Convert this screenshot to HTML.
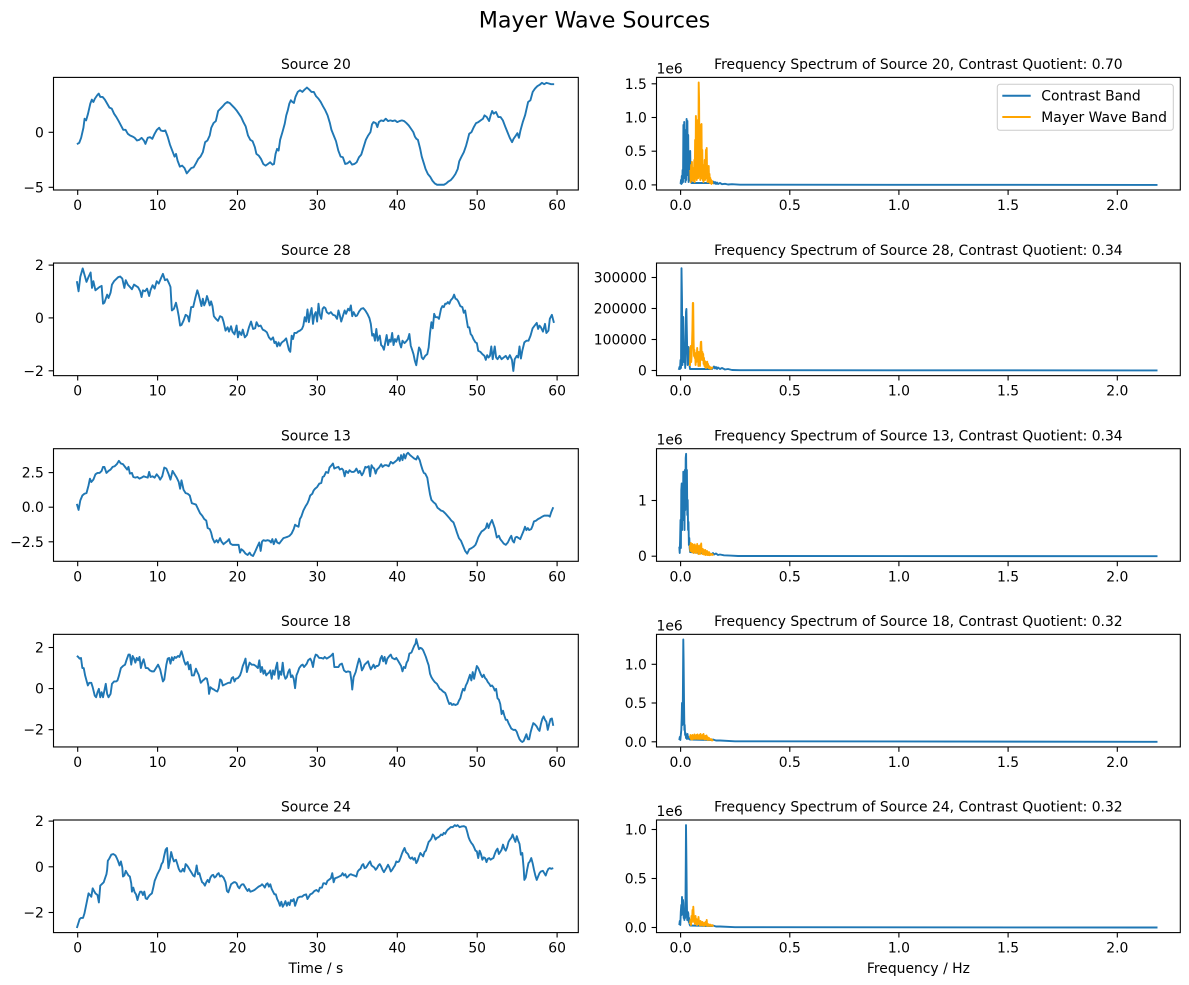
<!DOCTYPE html>
<html><head><meta charset="utf-8"><style>
html,body{margin:0;padding:0;background:#fff;}
svg{display:block;}
text{font-family:"DejaVu Sans","Liberation Sans",sans-serif;fill:#000;}
.t{font-size:13.9px;}
.l{text-anchor:end;}
.c{text-anchor:middle;}
.ax{fill:none;stroke:#000;stroke-width:1.1;}
.tk{stroke:#000;stroke-width:1.1;}
.b{fill:none;stroke:#1f77b4;stroke-width:1.9;stroke-linejoin:round;}
.o{fill:none;stroke:#ffa500;stroke-width:1.9;stroke-linejoin:round;}
.bs{fill:none;stroke:#1f77b4;stroke-width:1.9;stroke-linejoin:round;vector-effect:non-scaling-stroke;}
</style></head><body>
<svg width="1189" height="985" viewBox="0 0 1189 985" xmlns="http://www.w3.org/2000/svg">
<rect width="1189" height="985" fill="#fff"/>
<text x="594.5" y="27.5" class="c" style="font-size:22.2px">Mayer Wave Sources</text>

<!-- ========== ROW 1 ========== -->
<text x="315.9" y="69.1" class="t c">Source 20</text>
<text x="918.4" y="69.1" class="t c">Frequency Spectrum of Source 20, Contrast Quotient: 0.70</text>
<g transform="translate(0,50) scale(0.3827,0.3352)">
<polyline class="bs" points="201,281 207,277 212,262 218,232 221,205 225,210 230,190 236,160 240,148 244,155 248,145 254,135 258,130 262,140 268,140 274,148 280,160 286,172 292,175 298,190 304,200 310,212 316,225 322,238 328,238 334,250 340,255 346,258 352,262 358,270 364,268 370,262 376,270 380,280 386,262 392,260 398,265 404,250 410,238 416,232 420,240 426,242 432,240 438,258 444,282 450,300 456,318 460,310 464,330 470,348 476,345 482,352 488,368 494,360 500,352 506,350 512,338 518,325 524,318 530,305 536,275 542,270 548,255 552,232 558,218 564,212 570,182 576,175 582,168 588,160 594,155 600,158 606,165 612,172 618,180 624,190 630,200 636,215 642,228 648,255 654,268 660,272 666,290 670,310 676,315 682,325 688,340 694,345 700,340 706,335 712,342 716,340 720,310 724,295 728,300 732,268 738,245 744,220 748,195 752,180 756,160 760,150 764,155 768,158 772,140 778,125 784,120 790,125 796,118 802,112 808,118 814,125 820,125 826,138 832,145 838,155 844,168 850,180 856,195 862,218 866,238 872,255 878,272 884,300 890,318 896,320 902,340 908,338 914,332 920,342 926,340 932,335 938,320 944,312 950,290 956,268 962,255 968,245 972,222 976,215 982,218 986,230 990,215 996,210 1002,212 1008,205 1014,212 1020,210 1026,212 1032,210 1038,215 1044,212 1050,210 1056,212 1062,218 1068,225 1074,235 1080,245 1084,258 1088,265 1092,268 1098,295 1102,318 1108,340 1112,355 1118,370 1124,378 1130,390 1136,398 1142,402 1148,402 1154,402 1160,402 1166,398 1172,392 1178,388 1184,380 1190,370 1196,355 1200,332 1206,318 1212,305 1218,285 1222,268 1226,250 1232,245 1238,230 1244,218 1250,215 1256,210 1262,205 1266,195 1272,200 1278,212 1282,195 1286,182 1290,190 1296,185 1302,200 1308,200 1314,210 1320,228 1326,245 1332,262 1338,275 1342,265 1348,255 1352,248 1356,262 1360,240 1366,215 1372,195 1376,175 1380,155 1386,150 1392,125 1398,115 1404,108 1410,104 1416,98 1422,102 1428,98 1434,100 1440,102 1448,102"/>
</g>
<rect class="ax" x="53.5" y="77.4" width="524.8" height="112.6"/>
<g class="tk">
<line x1="48.6" y1="132.3" x2="53.5" y2="132.3"/><line x1="48.6" y1="187.3" x2="53.5" y2="187.3"/>
<line x1="77.7" y1="190" x2="77.7" y2="194.9"/><line x1="157.6" y1="190" x2="157.6" y2="194.9"/><line x1="237.5" y1="190" x2="237.5" y2="194.9"/><line x1="317.4" y1="190" x2="317.4" y2="194.9"/><line x1="397.3" y1="190" x2="397.3" y2="194.9"/><line x1="477.2" y1="190" x2="477.2" y2="194.9"/><line x1="557.1" y1="190" x2="557.1" y2="194.9"/>
</g>
<text class="t l" x="43.8" y="137.3">0</text><text class="t l" x="43.8" y="192.3">−5</text>
<g class="t c"><text x="77.7" y="210">0</text><text x="157.6" y="210">10</text><text x="237.5" y="210">20</text><text x="317.4" y="210">30</text><text x="397.3" y="210">40</text><text x="477.2" y="210">50</text><text x="557.1" y="210">60</text></g>

<path class="b" d="M680.6,184 L681,180 L681.4,184 L681.8,176 L682.2,183 L682.6,170 L683,182 L683.4,125 L683.8,178 L684.2,122 L684.6,160 L685,130 L685.4,182 L685.8,140 L686.2,180 L686.6,119 L687,150 L687.4,121 L687.8,175 L688.2,135 L688.6,182 L689,160 L689.4,152 L689.8,180 L690.2,151 L690.6,175 L691,165 L691.4,183 L700,183 L712,183 L713,181.5 L714,183.5 L715,182 L716,184 L717,182.5 L718,184 L720,183 L722,184.2 L725,183.8 L728,184.5 L732,184.2 L740,184.7 L1157.5,184.9"/>
<path class="o" d="M690.3,170 L690.7,182 L691.1,165 L691.5,178 L691.9,162 L692.3,180 L692.7,168 L693.1,181 L693.5,172 L693.9,178 L694.3,160 L694.7,182 L695.1,140 L695.5,178 L695.9,116 L696.3,130 L696.7,180 L697.1,150 L697.5,176 L697.9,120 L698.3,178 L698.7,82.5 L699.1,100 L699.5,176 L699.9,140 L700.3,180 L700.7,125 L701.1,165 L701.5,124 L701.9,178 L702.3,150 L702.7,180 L703.1,165 L703.5,182 L703.9,170 L704.3,180 L704.7,160 L705.1,180 L705.5,172 L705.9,150 L706.3,178 L706.7,148 L707.1,175 L707.5,182 L707.9,168 L708.3,180 L708.7,166 L709.1,182 L709.5,174 L709.9,183 L710.3,178 L710.7,183 L711.1,180 L711.5,184 L712,181 L712.5,184"/>
<rect class="ax" x="656.5" y="77.4" width="523.8" height="112.6"/>
<g class="tk">
<line x1="651.6" y1="184.9" x2="656.5" y2="184.9"/><line x1="651.6" y1="151.2" x2="656.5" y2="151.2"/><line x1="651.6" y1="117.5" x2="656.5" y2="117.5"/><line x1="651.6" y1="83.8" x2="656.5" y2="83.8"/>
<line x1="680.6" y1="190" x2="680.6" y2="194.9"/><line x1="789.8" y1="190" x2="789.8" y2="194.9"/><line x1="898.9" y1="190" x2="898.9" y2="194.9"/><line x1="1008.1" y1="190" x2="1008.1" y2="194.9"/><line x1="1117.3" y1="190" x2="1117.3" y2="194.9"/>
</g>
<g class="t l"><text x="646.8" y="189.9">0.0</text><text x="646.8" y="156.2">0.5</text><text x="646.8" y="122.5">1.0</text><text x="646.8" y="88.8">1.5</text></g>
<text class="t" x="656.5" y="73.4">1e6</text>
<g class="t c"><text x="680.6" y="210">0.0</text><text x="789.8" y="210">0.5</text><text x="898.9" y="210">1.0</text><text x="1008.1" y="210">1.5</text><text x="1117.3" y="210">2.0</text></g>
<rect x="997.3" y="84.3" width="176" height="46" rx="2.8" fill="#fff" fill-opacity="0.8" stroke="#cccccc" stroke-width="1"/>
<line x1="1002.3" y1="95.7" x2="1030.7" y2="95.7" stroke="#1f77b4" stroke-width="2"/>
<line x1="1002.3" y1="117" x2="1030.7" y2="117" stroke="#ffa500" stroke-width="2"/>
<text class="t" x="1041.3" y="100.7">Contrast Band</text>
<text class="t" x="1041.3" y="122">Mayer Wave Band</text>

<!-- ========== ROW 2 ========== -->
<text x="315.9" y="254.75" class="t c">Source 28</text>
<text x="918.4" y="254.75" class="t c">Frequency Spectrum of Source 28, Contrast Quotient: 0.34</text>
<g transform="translate(50,255) scale(0.34423,0.33613)">
<polyline class="bs" points="78,78 83,108 88,65 95,40 100,58 106,80 112,65 118,52 122,98 126,78 132,105 138,100 144,95 150,92 154,145 158,142 162,130 166,118 170,128 176,112 180,88 186,78 192,72 198,66 204,64 210,70 216,98 220,75 226,88 232,95 238,102 244,88 250,92 256,96 262,108 266,125 270,105 276,108 282,100 288,122 292,105 298,90 304,100 310,78 316,85 322,70 328,56 334,75 340,72 346,85 350,95 354,165 360,160 366,142 370,160 374,182 378,210 382,208 388,195 394,178 400,182 404,198 410,155 416,155 422,128 428,105 432,118 436,135 440,152 444,130 448,150 452,140 456,122 460,135 464,150 468,138 472,152 476,182 482,190 488,196 494,182 500,185 504,198 510,225 516,215 520,228 526,212 530,228 536,236 542,210 546,245 550,228 556,238 560,222 566,245 572,238 578,215 584,198 590,220 596,218 600,200 606,212 612,210 618,222 624,225 630,230 636,245 642,252 648,245 652,262 656,258 660,272 664,260 668,270 672,262 676,258 680,255 686,248 690,265 694,282 698,288 702,240 706,250 710,232 716,232 720,228 726,225 732,220 736,210 740,185 744,198 748,162 752,200 756,175 760,158 764,205 768,178 772,170 776,198 780,145 784,178 788,190 792,160 796,155 800,158 804,170 810,175 816,170 822,178 828,180 834,190 838,165 842,180 846,198 852,178 856,165 860,175 866,160 870,165 874,150 878,182 882,170 888,182 892,180 898,168 904,160 910,158 916,165 922,175 928,188 932,205 936,240 940,235 944,255 948,220 952,255 958,240 962,268 966,272 970,282 974,260 978,238 982,268 986,252 990,258 994,232 998,268 1002,250 1006,258 1012,240 1016,262 1020,275 1024,255 1030,262 1034,258 1040,250 1044,235 1048,270 1052,282 1056,295 1060,315 1064,328 1068,300 1072,275 1076,282 1080,305 1084,310 1090,300 1096,295 1100,275 1104,232 1108,200 1112,218 1116,175 1120,185 1126,185 1130,190 1136,160 1140,152 1144,155 1148,145 1152,145 1156,140 1160,145 1164,135 1170,128 1174,118 1178,130 1182,132 1186,138 1192,152 1198,155 1202,172 1206,165 1210,190 1214,215 1218,215 1222,235 1226,240 1230,250 1236,260 1240,262 1244,285 1250,288 1256,295 1262,300 1266,312 1270,298 1274,305 1278,300 1282,272 1286,310 1292,272 1296,305 1300,310 1306,300 1312,310 1318,305 1324,300 1330,310 1336,298 1342,312 1346,345 1350,310 1356,300 1360,305 1364,272 1368,308 1372,285 1378,260 1384,255 1390,255 1396,240 1402,218 1408,210 1414,202 1418,220 1422,210 1426,215 1432,228 1438,205 1442,232 1448,225 1452,190 1458,178 1464,202"/>
</g>
<rect class="ax" x="53.5" y="263.05" width="524.8" height="112.6"/>
<g class="tk">
<line x1="48.6" y1="265.1" x2="53.5" y2="265.1"/><line x1="48.6" y1="317.9" x2="53.5" y2="317.9"/><line x1="48.6" y1="370.8" x2="53.5" y2="370.8"/>
<line x1="77.7" y1="375.65" x2="77.7" y2="380.5"/><line x1="157.6" y1="375.65" x2="157.6" y2="380.5"/><line x1="237.5" y1="375.65" x2="237.5" y2="380.5"/><line x1="317.4" y1="375.65" x2="317.4" y2="380.5"/><line x1="397.3" y1="375.65" x2="397.3" y2="380.5"/><line x1="477.2" y1="375.65" x2="477.2" y2="380.5"/><line x1="557.1" y1="375.65" x2="557.1" y2="380.5"/>
</g>
<g class="t l"><text x="43.8" y="270.1">2</text><text x="43.8" y="322.9">0</text><text x="43.8" y="375.8">−2</text></g>
<g class="t c"><text x="77.7" y="395.65">0</text><text x="157.6" y="395.65">10</text><text x="237.5" y="395.65">20</text><text x="317.4" y="395.65">30</text><text x="397.3" y="395.65">40</text><text x="477.2" y="395.65">50</text><text x="557.1" y="395.65">60</text></g>

<path class="b" d="M678.3,368.5 L679,369 L679.5,367 L680,369 L680.5,360 L681,368 L681.5,268.2 L682,300 L682.4,365 L682.8,330 L683.2,317 L683.6,340 L684,362 L684.4,345 L684.8,355 L685.2,368 L685.6,340 L686,312 L686.4,309 L686.8,330 L687.2,350 L687.6,365 L688,355 L688.4,347 L688.8,360 L689.2,352 L689.6,366 L690,369 L712,369 L713,368 L714,366.5 L715,368.5 L716,367 L717,369 L718,367.5 L720,369 L722,368 L725,369.5 L728,369 L732,370 L740,370.2 L1157.5,370.4"/>
<path class="o" d="M690,366 L690.4,348 L690.8,346 L691.2,362 L691.6,356 L692,345 L692.4,330 L692.8,303 L693.2,303 L693.6,340 L694,356 L694.4,350 L694.8,358 L695.2,353 L695.6,365 L696,356 L696.4,362 L696.8,355 L697.2,348 L697.6,360 L698,357 L698.4,366 L698.8,352 L699.2,362 L699.6,358 L700,366 L700.4,350 L700.8,342 L701.2,341.7 L701.6,352 L702,360 L702.4,352 L702.8,358 L703.2,354 L703.6,364 L704,358 L704.4,366 L704.8,361 L705.2,367 L705.6,362 L706,368 L706.4,363 L706.8,366 L707.2,361.7 L707.6,367 L708,364 L708.5,368 L709,366 L709.5,368.5 L710,367 L711,369 L712,367.5 L713,368"/>
<rect class="ax" x="656.5" y="263.05" width="523.8" height="112.6"/>
<g class="tk">
<line x1="651.6" y1="370.5" x2="656.5" y2="370.5"/><line x1="651.6" y1="339.5" x2="656.5" y2="339.5"/><line x1="651.6" y1="308.5" x2="656.5" y2="308.5"/><line x1="651.6" y1="277.5" x2="656.5" y2="277.5"/>
<line x1="680.6" y1="375.65" x2="680.6" y2="380.5"/><line x1="789.8" y1="375.65" x2="789.8" y2="380.5"/><line x1="898.9" y1="375.65" x2="898.9" y2="380.5"/><line x1="1008.1" y1="375.65" x2="1008.1" y2="380.5"/><line x1="1117.3" y1="375.65" x2="1117.3" y2="380.5"/>
</g>
<g class="t l"><text x="646.8" y="375.5">0</text><text x="646.8" y="344.5">100000</text><text x="646.8" y="313.5">200000</text><text x="646.8" y="282.5">300000</text></g>
<g class="t c"><text x="680.6" y="395.65">0.0</text><text x="789.8" y="395.65">0.5</text><text x="898.9" y="395.65">1.0</text><text x="1008.1" y="395.65">1.5</text><text x="1117.3" y="395.65">2.0</text></g>

<!-- ========== ROW 3 ========== -->
<text x="315.9" y="440.4" class="t c">Source 13</text>
<text x="918.4" y="440.4" class="t c">Frequency Spectrum of Source 13, Contrast Quotient: 0.34</text>
<g transform="translate(50,440) scale(0.34423,0.33613)">
<polyline class="bs" points="78,190 83,208 88,180 94,165 100,160 106,158 112,135 116,115 120,125 126,118 132,102 138,98 144,98 150,92 154,80 158,80 164,98 170,92 176,88 182,80 188,78 194,72 200,62 206,70 212,72 218,80 224,88 228,80 232,100 238,98 242,110 248,112 254,110 260,115 266,112 272,108 278,110 284,112 288,95 292,110 298,108 304,112 310,102 316,110 320,118 326,108 332,82 338,85 344,100 350,118 356,92 362,102 368,112 374,125 378,145 382,120 388,148 394,158 400,160 406,165 412,188 418,190 424,192 430,205 436,218 442,225 448,235 454,240 458,262 464,265 468,275 472,292 478,305 484,298 488,305 494,292 498,302 504,310 510,305 516,300 520,295 524,308 530,312 536,312 542,312 548,312 552,335 556,325 562,330 568,338 574,342 580,335 584,342 590,345 596,332 602,318 608,305 612,330 616,302 620,298 626,300 632,298 638,300 642,305 646,295 650,310 656,295 660,305 666,308 672,300 678,292 684,290 690,288 696,285 702,278 708,265 712,252 716,255 722,258 726,235 730,228 736,210 742,198 748,188 752,178 756,165 762,160 766,150 770,145 776,140 782,130 788,128 792,110 796,108 802,95 808,98 812,82 818,75 822,70 826,85 832,82 838,80 842,88 848,85 852,90 856,108 860,92 866,98 870,90 876,95 882,95 886,92 890,85 896,98 900,92 906,105 910,98 916,80 920,82 926,78 930,108 934,75 938,82 942,85 946,100 950,88 956,82 962,72 966,80 972,75 978,75 984,78 990,65 996,70 1002,65 1008,60 1012,52 1016,62 1020,45 1024,60 1028,42 1032,55 1036,42 1040,38 1046,45 1052,50 1058,55 1064,58 1068,48 1074,60 1078,75 1082,88 1086,98 1090,100 1096,112 1100,138 1104,162 1108,178 1114,185 1120,190 1126,202 1130,205 1136,210 1142,212 1148,218 1154,225 1160,232 1166,240 1172,245 1178,262 1182,275 1188,292 1194,300 1200,315 1206,330 1212,338 1218,325 1224,322 1230,318 1236,312 1240,302 1244,290 1248,282 1254,272 1260,268 1266,262 1270,248 1274,262 1278,250 1284,238 1288,250 1292,262 1298,290 1304,285 1308,295 1312,300 1318,308 1324,312 1330,305 1336,292 1340,285 1344,300 1348,305 1352,290 1356,288 1362,292 1366,295 1370,285 1376,270 1380,258 1384,268 1388,262 1392,268 1398,265 1402,255 1406,242 1412,240 1418,235 1424,232 1430,228 1436,225 1442,225 1448,225 1452,228 1456,215 1462,200"/>
</g>
<rect class="ax" x="53.5" y="448.7" width="524.8" height="112.6"/>
<g class="tk">
<line x1="48.6" y1="472.6" x2="53.5" y2="472.6"/><line x1="48.6" y1="507.2" x2="53.5" y2="507.2"/><line x1="48.6" y1="541.8" x2="53.5" y2="541.8"/>
<line x1="77.7" y1="561.3" x2="77.7" y2="566.2"/><line x1="157.6" y1="561.3" x2="157.6" y2="566.2"/><line x1="237.5" y1="561.3" x2="237.5" y2="566.2"/><line x1="317.4" y1="561.3" x2="317.4" y2="566.2"/><line x1="397.3" y1="561.3" x2="397.3" y2="566.2"/><line x1="477.2" y1="561.3" x2="477.2" y2="566.2"/><line x1="557.1" y1="561.3" x2="557.1" y2="566.2"/>
</g>
<g class="t l"><text x="43.8" y="477.6">2.5</text><text x="43.8" y="512.2">0.0</text><text x="43.8" y="546.8">−2.5</text></g>
<g class="t c"><text x="77.7" y="581.3">0</text><text x="157.6" y="581.3">10</text><text x="237.5" y="581.3">20</text><text x="317.4" y="581.3">30</text><text x="397.3" y="581.3">40</text><text x="477.2" y="581.3">50</text><text x="557.1" y="581.3">60</text></g>

<path class="b" d="M679.3,546.7 L679.7,553 L680.1,540 L680.5,520 L680.9,548 L681.3,490 L681.7,483.5 L682.1,530 L682.5,495 L682.9,520 L683.3,471.7 L683.7,500 L684.1,478 L684.5,530 L684.9,470 L685.3,510 L685.7,458 L686.1,453.8 L686.5,495 L686.9,470 L687.3,515 L687.7,500 L688.1,530 L688.5,522 L688.9,545 L689.3,538 L689.7,548 L690.1,552 L712,554 L713,553 L714,554.5 L716,553.5 L718,555 L720,554.5 L724,555.3 L730,555.6 L738,556 L1157.5,556.2"/>
<path class="o" d="M690,545 L690.4,551 L690.8,543 L691.2,549 L691.6,545 L692,552 L692.4,544 L692.8,550 L693.2,546 L693.6,553 L694,545 L694.4,550 L694.8,544.5 L695.2,552 L695.6,547 L696,553 L696.4,546 L696.8,551 L697.2,544 L697.6,552 L698,548 L698.4,554 L698.8,546 L699.2,552 L699.6,549 L700,554 L700.4,545 L700.8,551 L701.2,543.5 L701.6,552 L702,549 L702.4,554 L702.8,549 L703.2,553.5 L703.6,550 L704,554.5 L704.4,551 L704.8,554 L705.2,550 L705.6,555 L706,552 L706.5,554.5 L707,551 L707.5,555 L708,553 L708.5,555 L709,552 L709.5,555.2 L710,553.5 L711,555 L712,554 L713.3,555.5"/>
<rect class="ax" x="656.5" y="448.7" width="523.8" height="112.6"/>
<g class="tk">
<line x1="651.6" y1="556.2" x2="656.5" y2="556.2"/><line x1="651.6" y1="500.5" x2="656.5" y2="500.5"/>
<line x1="680.6" y1="561.3" x2="680.6" y2="566.2"/><line x1="789.8" y1="561.3" x2="789.8" y2="566.2"/><line x1="898.9" y1="561.3" x2="898.9" y2="566.2"/><line x1="1008.1" y1="561.3" x2="1008.1" y2="566.2"/><line x1="1117.3" y1="561.3" x2="1117.3" y2="566.2"/>
</g>
<g class="t l"><text x="646.8" y="561.2">0</text><text x="646.8" y="505.5">1</text></g>
<text class="t" x="656.5" y="444.7">1e6</text>
<g class="t c"><text x="680.6" y="581.3">0.0</text><text x="789.8" y="581.3">0.5</text><text x="898.9" y="581.3">1.0</text><text x="1008.1" y="581.3">1.5</text><text x="1117.3" y="581.3">2.0</text></g>

<!-- ========== ROW 4 ========== -->
<text x="315.9" y="626.05" class="t c">Source 18</text>
<text x="918.4" y="626.05" class="t c">Frequency Spectrum of Source 18, Contrast Quotient: 0.32</text>
<g transform="translate(50,625) scale(0.34423,0.33613)">
<polyline class="bs" points="78,92 82,95 86,100 90,98 94,128 98,128 102,150 106,165 110,180 114,172 120,172 124,185 130,210 134,215 138,200 142,190 146,215 150,200 154,215 158,195 162,175 166,205 170,215 176,205 180,175 186,168 192,168 196,165 200,152 206,128 212,122 218,118 222,105 228,88 232,88 236,118 240,92 244,100 248,112 252,98 256,105 260,95 264,128 268,112 272,102 278,128 284,128 290,135 296,138 302,138 308,128 314,118 320,132 324,150 328,168 332,162 338,118 342,100 346,98 350,115 354,96 358,105 362,95 366,98 372,92 376,95 382,78 386,92 390,108 394,118 400,110 404,132 408,118 412,150 418,150 424,130 428,140 432,148 438,172 444,165 448,162 452,158 456,160 460,180 462,205 466,185 472,190 476,192 480,195 486,198 490,188 494,162 498,165 502,180 506,178 512,175 518,172 524,172 528,158 532,155 536,168 540,160 546,158 552,150 556,138 560,122 564,112 568,100 572,140 576,125 580,112 586,118 592,118 598,122 604,128 608,105 612,140 616,125 620,145 624,135 628,150 632,145 636,142 640,135 644,160 648,135 652,148 656,128 660,112 664,160 668,138 672,148 676,112 680,148 684,160 688,155 692,140 696,132 700,155 704,150 708,160 712,188 716,150 720,140 724,128 730,120 734,118 738,125 742,120 746,115 750,105 756,100 760,108 764,125 768,100 772,88 776,90 782,98 788,98 794,100 798,95 804,100 810,96 816,92 822,85 826,125 832,125 838,125 842,118 848,115 854,135 860,140 866,138 872,140 876,168 878,192 882,155 888,140 894,115 898,100 902,112 906,135 910,128 914,118 920,112 924,108 928,122 932,132 936,125 940,118 944,128 948,122 952,122 956,118 960,100 964,92 968,108 972,95 976,115 980,100 986,92 990,88 994,98 998,100 1002,102 1006,98 1012,108 1016,115 1020,122 1024,138 1028,125 1032,128 1036,112 1040,105 1044,85 1050,82 1054,72 1058,62 1062,55 1064,42 1068,58 1072,72 1076,68 1080,70 1084,75 1088,85 1092,95 1096,108 1100,120 1104,145 1108,155 1112,162 1118,170 1124,175 1128,182 1132,190 1136,192 1142,198 1148,202 1152,212 1156,225 1160,235 1164,232 1168,238 1172,235 1178,238 1184,235 1188,225 1192,218 1196,202 1200,190 1204,195 1208,180 1212,172 1216,160 1220,148 1224,165 1228,140 1232,160 1236,140 1240,122 1244,128 1248,138 1252,148 1256,155 1260,148 1264,158 1268,162 1272,170 1276,175 1280,182 1284,180 1288,185 1292,195 1296,190 1300,218 1304,222 1308,235 1312,265 1316,255 1320,270 1324,282 1328,282 1332,292 1336,300 1340,308 1346,312 1352,312 1356,318 1360,330 1364,340 1368,345 1372,348 1376,345 1380,335 1384,325 1388,340 1392,340 1396,320 1400,305 1404,292 1408,295 1414,302 1418,310 1422,315 1426,295 1430,280 1434,272 1438,282 1442,288 1446,312 1450,295 1454,280 1458,278 1462,300"/>
</g>
<rect class="ax" x="53.5" y="634.35" width="524.8" height="112.6"/>
<g class="tk">
<line x1="48.6" y1="647.5" x2="53.5" y2="647.5"/><line x1="48.6" y1="688.6" x2="53.5" y2="688.6"/><line x1="48.6" y1="729.7" x2="53.5" y2="729.7"/>
<line x1="77.7" y1="746.95" x2="77.7" y2="751.8"/><line x1="157.6" y1="746.95" x2="157.6" y2="751.8"/><line x1="237.5" y1="746.95" x2="237.5" y2="751.8"/><line x1="317.4" y1="746.95" x2="317.4" y2="751.8"/><line x1="397.3" y1="746.95" x2="397.3" y2="751.8"/><line x1="477.2" y1="746.95" x2="477.2" y2="751.8"/><line x1="557.1" y1="746.95" x2="557.1" y2="751.8"/>
</g>
<g class="t l"><text x="43.8" y="652.5">2</text><text x="43.8" y="693.6">0</text><text x="43.8" y="734.7">−2</text></g>
<g class="t c"><text x="77.7" y="766.95">0</text><text x="157.6" y="766.95">10</text><text x="237.5" y="766.95">20</text><text x="317.4" y="766.95">30</text><text x="397.3" y="766.95">40</text><text x="477.2" y="766.95">50</text><text x="557.1" y="766.95">60</text></g>

<path class="b" d="M679.3,740 L679.8,737 L680.3,740 L680.8,735 L681.3,730 L681.7,718 L682,703 L682.4,725 L682.7,720 L683,680 L683.3,639.5 L683.6,660 L684,700 L684.4,730 L684.7,725 L685.1,735 L685.5,733 L686,738 L686.5,736 L687,739 L687.5,734 L688,738 L688.5,737 L689,739 L690,739.5 L712,740 L713,739.5 L716,740.5 L720,740.5 L735,741.3 L1157.5,741.8"/>
<path class="o" d="M690,738 L690.5,735 L691,739 L691.5,736 L692,739.5 L692.5,735 L693,738.5 L693.5,736 L694,739 L694.5,734.5 L695,738 L695.5,736 L696,739 L696.5,735 L697,738 L697.5,734.5 L698,739 L698.5,736 L699,738.5 L699.5,735 L700,739 L700.5,734 L701,738 L701.5,736 L702,739 L702.5,735 L703,738.5 L703.5,734 L704,739 L704.5,736 L705,739.5 L705.5,736 L706,739 L706.5,735.5 L707,739.5 L707.5,737 L708,740 L709,738 L710,740 L711,739 L712,740.5 L713.3,740"/>
<rect class="ax" x="656.5" y="634.35" width="523.8" height="112.6"/>
<g class="tk">
<line x1="651.6" y1="741.8" x2="656.5" y2="741.8"/><line x1="651.6" y1="703" x2="656.5" y2="703"/><line x1="651.6" y1="664.3" x2="656.5" y2="664.3"/>
<line x1="680.6" y1="746.95" x2="680.6" y2="751.8"/><line x1="789.8" y1="746.95" x2="789.8" y2="751.8"/><line x1="898.9" y1="746.95" x2="898.9" y2="751.8"/><line x1="1008.1" y1="746.95" x2="1008.1" y2="751.8"/><line x1="1117.3" y1="746.95" x2="1117.3" y2="751.8"/>
</g>
<g class="t l"><text x="646.8" y="746.8">0.0</text><text x="646.8" y="708">0.5</text><text x="646.8" y="669.3">1.0</text></g>
<text class="t" x="656.5" y="630.35">1e6</text>
<g class="t c"><text x="680.6" y="766.95">0.0</text><text x="789.8" y="766.95">0.5</text><text x="898.9" y="766.95">1.0</text><text x="1008.1" y="766.95">1.5</text><text x="1117.3" y="766.95">2.0</text></g>

<!-- ========== ROW 5 ========== -->
<text x="315.9" y="811.7" class="t c">Source 24</text>
<text x="918.4" y="811.7" class="t c">Frequency Spectrum of Source 24, Contrast Quotient: 0.32</text>
<g transform="translate(50,811) scale(0.34423,0.33613)">
<polyline class="bs" points="78,348 82,335 86,322 90,318 96,318 100,305 104,285 108,265 112,245 116,250 120,255 124,230 128,238 132,245 138,250 142,272 146,222 150,218 156,212 160,200 164,188 166,175 168,148 172,142 178,130 184,128 190,132 194,140 198,150 202,162 206,150 210,168 212,195 216,192 220,178 224,185 228,192 232,195 236,215 238,240 242,228 246,242 250,248 254,265 258,250 262,240 266,240 270,250 274,240 278,260 282,262 286,255 290,250 296,245 300,228 304,208 308,198 312,188 316,180 320,172 324,158 328,152 332,132 336,115 340,110 344,170 348,150 352,122 356,138 360,150 366,145 370,158 374,172 378,180 382,180 386,172 390,180 394,158 398,162 402,168 406,175 412,185 416,192 420,195 424,175 426,162 430,188 434,185 438,200 442,212 446,215 450,222 454,212 458,205 462,212 466,198 470,192 474,190 478,198 482,195 486,188 490,185 494,195 498,192 504,198 510,212 514,238 518,242 522,230 526,218 530,215 534,212 538,212 542,215 546,225 550,230 554,222 558,218 562,218 566,225 570,232 574,238 578,232 582,240 588,238 594,235 600,230 606,225 612,222 616,218 620,222 624,228 628,218 632,215 636,225 640,218 644,232 648,240 652,248 656,248 660,262 664,270 668,282 672,270 676,285 680,278 684,268 688,282 692,272 696,280 700,265 704,268 708,262 712,282 716,270 720,258 726,255 732,255 738,250 744,248 748,262 752,255 756,248 762,245 768,238 774,235 780,240 784,228 790,228 794,215 798,215 802,218 806,208 810,205 816,200 820,185 824,212 828,200 834,198 840,195 846,192 850,185 854,192 858,188 862,198 866,195 870,190 874,188 878,190 884,192 890,195 894,180 898,175 902,172 906,162 910,158 914,170 918,168 922,162 926,155 930,150 934,162 938,165 942,168 946,175 950,170 954,162 958,158 962,165 966,175 970,182 974,175 978,168 982,160 986,168 990,180 994,175 998,168 1002,162 1006,150 1010,152 1014,150 1018,140 1022,128 1026,118 1030,110 1034,122 1040,128 1044,138 1048,142 1052,138 1056,145 1060,140 1064,155 1068,148 1072,135 1076,125 1080,130 1084,135 1088,122 1092,118 1096,105 1100,92 1104,88 1108,82 1112,70 1116,75 1120,85 1124,80 1128,78 1132,75 1136,70 1140,72 1144,65 1148,68 1152,60 1156,55 1160,52 1164,48 1170,48 1176,42 1180,45 1184,42 1190,48 1196,46 1202,45 1208,48 1212,62 1216,78 1220,88 1224,95 1228,100 1232,108 1236,118 1240,120 1244,140 1248,118 1252,128 1256,145 1260,138 1264,140 1268,152 1272,142 1276,140 1280,145 1284,142 1288,140 1292,128 1296,118 1300,112 1304,128 1308,122 1312,115 1316,100 1320,112 1324,118 1328,108 1332,92 1336,85 1340,80 1344,70 1348,82 1352,92 1356,75 1360,88 1364,98 1368,130 1372,125 1376,170 1378,205 1382,198 1386,175 1390,155 1394,150 1398,140 1402,155 1406,175 1410,192 1414,205 1418,195 1422,185 1426,180 1432,178 1436,185 1440,192 1444,180 1448,172 1452,170 1456,172 1462,170"/>
</g>
<rect class="ax" x="53.5" y="820" width="524.8" height="112.6"/>
<g class="tk">
<line x1="48.6" y1="821.1" x2="53.5" y2="821.1"/><line x1="48.6" y1="866.8" x2="53.5" y2="866.8"/><line x1="48.6" y1="912.5" x2="53.5" y2="912.5"/>
<line x1="77.7" y1="932.6" x2="77.7" y2="937.5"/><line x1="157.6" y1="932.6" x2="157.6" y2="937.5"/><line x1="237.5" y1="932.6" x2="237.5" y2="937.5"/><line x1="317.4" y1="932.6" x2="317.4" y2="937.5"/><line x1="397.3" y1="932.6" x2="397.3" y2="937.5"/><line x1="477.2" y1="932.6" x2="477.2" y2="937.5"/><line x1="557.1" y1="932.6" x2="557.1" y2="937.5"/>
</g>
<g class="t l"><text x="43.8" y="826.1">2</text><text x="43.8" y="871.8">0</text><text x="43.8" y="917.5">−2</text></g>
<g class="t c"><text x="77.7" y="952.6">0</text><text x="157.6" y="952.6">10</text><text x="237.5" y="952.6">20</text><text x="317.4" y="952.6">30</text><text x="397.3" y="952.6">40</text><text x="477.2" y="952.6">50</text><text x="557.1" y="952.6">60</text></g>
<text class="t c" x="315.9" y="973">Time / s</text>

<path class="b" d="M679.3,925 L679.8,921 L680.3,925 L680.8,912 L681.3,905 L681.7,915 L682,897 L682.4,908 L682.7,910 L683,900 L683.3,903 L683.7,918 L684,915 L684.4,920 L684.8,910 L685.2,918 L685.5,900 L685.8,860 L686,825.1 L686.3,850 L686.8,900 L687.2,920 L687.5,918 L687.9,912 L688.3,913.3 L688.7,922 L689.1,918 L689.5,924 L690,925.5 L712,926 L713,925.5 L716,926.5 L720,926.5 L735,927.2 L1157.5,927.5"/>
<path class="o" d="M690,924 L690.5,920 L691,925 L691.5,916 L692,922 L692.5,910 L693,918 L693.3,906.7 L693.7,915 L694,922 L694.5,918 L695,924 L695.5,916 L696,922 L696.5,919 L697,925 L697.5,920 L698,924 L698.5,917 L699,923 L699.5,921 L700,925.5 L700.5,921 L701,924 L701.5,922 L702,925.5 L702.5,922 L703,925 L703.5,923 L704,926 L704.5,923 L705,925 L705.5,922 L706,925 L706.7,920 L707.2,926 L708,924 L709,926 L710,924.5 L711,926 L712,925 L713.3,926.5"/>
<rect class="ax" x="656.5" y="820" width="523.8" height="112.6"/>
<g class="tk">
<line x1="651.6" y1="927.5" x2="656.5" y2="927.5"/><line x1="651.6" y1="878.5" x2="656.5" y2="878.5"/><line x1="651.6" y1="829.5" x2="656.5" y2="829.5"/>
<line x1="680.6" y1="932.6" x2="680.6" y2="937.5"/><line x1="789.8" y1="932.6" x2="789.8" y2="937.5"/><line x1="898.9" y1="932.6" x2="898.9" y2="937.5"/><line x1="1008.1" y1="932.6" x2="1008.1" y2="937.5"/><line x1="1117.3" y1="932.6" x2="1117.3" y2="937.5"/>
</g>
<g class="t l"><text x="646.8" y="932.5">0.0</text><text x="646.8" y="883.5">0.5</text><text x="646.8" y="834.5">1.0</text></g>
<text class="t" x="656.5" y="816">1e6</text>
<g class="t c"><text x="680.6" y="952.6">0.0</text><text x="789.8" y="952.6">0.5</text><text x="898.9" y="952.6">1.0</text><text x="1008.1" y="952.6">1.5</text><text x="1117.3" y="952.6">2.0</text></g>
<text class="t c" x="918.4" y="973">Frequency / Hz</text>
</svg>
</body></html>
